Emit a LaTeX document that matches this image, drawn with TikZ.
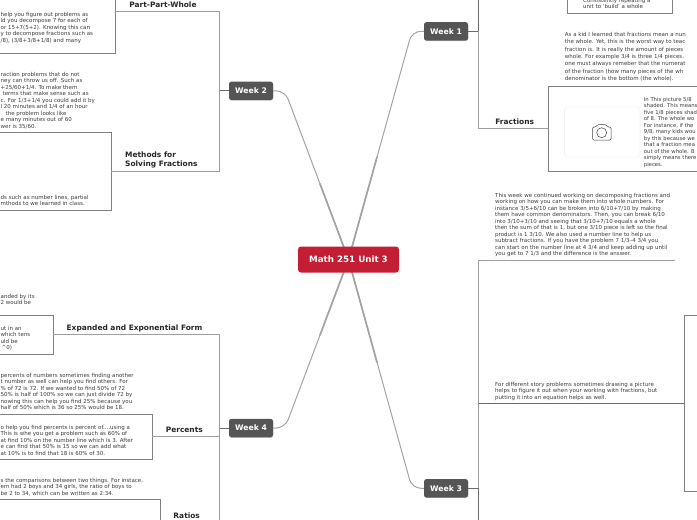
\documentclass[tikz,border=0pt]{standalone}
\usepackage{fontspec}
\setmainfont{DejaVu Sans}
\usetikzlibrary{shadows,positioning,backgrounds,calc}
\definecolor{rootred}{HTML}{C41E35}
\definecolor{weekgray}{HTML}{555555}
\definecolor{notegray}{HTML}{3C3C3C}
\tikzset{x=1pt,y=-1pt, % one unit is one pixel of the page
root/.style={fill=rootred, text=white, rounded corners=3pt, minimum width=101pt, minimum height=26pt, inner sep=0pt, font=\fontsize{8.7}{9}\selectfont\bfseries}, % the centre node
week/.style={fill=weekgray, text=white, rounded corners=2.5pt, minimum width=44pt, minimum height=18.5pt, inner sep=0pt, font=\fontsize{7.7}{9}\selectfont\bfseries, general shadow={fill=black!18, shadow xshift=.4pt, shadow yshift=-.6pt}},
spoke/.style={draw=black!36, line width=1pt, rounded corners=9pt}, % from the centre to a week
spokehub/.style={draw=black!36, line width=1.7pt}, % thicker close to the centre
branch/.style={draw=black!58, line width=.7pt},
lightbranch/.style={draw=black!38, line width=.7pt},
panel/.style={draw=black!50, fill=white, line width=.5pt, inner sep=0pt, general shadow={fill=black!22, shadow xshift=.7pt, shadow yshift=-.7pt}},
heading/.style={inner sep=0pt, align=left, text=black!85, font=\fontsize{7.45}{9.5}\selectfont\bfseries},
note/.style={inner sep=0pt, anchor=north west, align=left, text=notegray, font=\fontsize{5.5}{6.5}\selectfont},
}
\begin{document}
\begin{tikzpicture}
\useasboundingbox (0,0) rectangle (697,520);
\clip (0,0) rectangle (697,520);
\node[root] (math) at (348.5,259.5) {Math 251 Unit 3};
\node[week] (week1) at (446,31.3) {Week 1};
\node[week] (week2) at (251,90.8) {Week 2};
\node[week] (week3) at (446,488.3) {Week 3};
\node[week] (week4) at (251,428) {Week 4};
% panels
\node[panel, minimum width=135pt, minimum height=84pt, anchor=east] (partbox) at (115,11) {};
\node[panel, minimum width=131pt, minimum height=77.5pt, anchor=east] (methodbox) at (111,171.2) {};
\node[panel, minimum width=73pt, minimum height=39pt, anchor=east] (expandbox) at (53,334.8) {};
\node[panel, minimum width=172pt, minimum height=45.3pt, anchor=east] (percentbox) at (152.3,436.6) {};
\node[panel, minimum width=180pt, minimum height=48pt, anchor=north east] (ratiobox) at (160,499.3) {};
\node[panel, minimum width=105pt, minimum height=40pt, anchor=south west] (unitbox) at (566.7,13.3) {};
\node[panel, minimum width=170pt, minimum height=85pt, anchor=west] (fractionbox) at (548,128.5) {};
\node[panel, minimum width=40pt, minimum height=175.3pt, anchor=west] (storybox) at (684,403.3) {};
% branches
\coordinate (corner1) at (412,31.3);
\coordinate (corner2) at (285,90.8);
\coordinate (corner3) at (412,488.3);
\coordinate (corner4) at (285,428);
\coordinate (spine1) at (478.7,31.3);
\coordinate (spine2) at (219.5,90.8);
\coordinate (spine3) at (478.7,488.3);
\coordinate (spine4) at (219.5,428);
\coordinate (topend) at (478.7,-5);
\coordinate (bottomend) at (478.7,525);
\coordinate (ratioend) at (219.5,525);
\coordinate (decompend) at (675,260);
\begin{scope}[on background layer]
\draw[spoke] (math.center) -- (corner1) -- (week1.west);
\draw[spoke] (math.center) -- (corner2) -- (week2.east);
\draw[spoke] (math.center) -- (corner3) -- (week3.west);
\draw[spoke] (math.center) -- (corner4) -- (week4.east);
\draw[spokehub] (math.center) -- ($(math.center)!.45!(corner1)$);
\draw[spokehub] (math.center) -- ($(math.center)!.45!(corner2)$);
\draw[spokehub] (math.center) -- ($(math.center)!.45!(corner3)$);
\draw[spokehub] (math.center) -- ($(math.center)!.45!(corner4)$);
\end{scope}
\draw[branch] (week1.east) -- (spine1);
\draw[branch] (topend) -- (spine1);
\draw[lightbranch] (spine1) |- (fractionbox.west);
\draw[branch] (week2.west) -- (spine2);
\draw[lightbranch] (spine2) |- (partbox.east);
\draw[lightbranch] (spine2) |- (methodbox.east);
\draw[branch] (week3.east) -- (spine3);
\draw[branch] (bottomend) -- (spine3);
\draw[branch] (spine3) |- (storybox.west);
\draw[lightbranch] (spine3) |- (decompend);
\draw[branch] (week4.west) -- (spine4);
\draw[lightbranch] (spine4) |- (expandbox.east);
\draw[lightbranch] (spine4) |- (percentbox.east);
\draw[lightbranch] (spine4) -- (ratioend);
% headings
\node[heading] (parthead) at (163,4.5) {Part-Part-Whole};
\node[heading, anchor=west] (methodhead) at (125,160) {Methods for\\Solving Fractions};
\node[heading] (expandhead) at (134.5,328.5) {Expanded and Exponential Form};
\node[heading] (percenthead) at (184.3,429.7) {Percents};
\node[heading] (ratiohead) at (186.7,515.7) {Ratios};
\node[heading] (fractionhead) at (514.7,121.5) {Fractions};
% week 2 notes
\node[note] (partnote) at (0.5,12) {help you figure out problems as\\ld you decompose 7 for each of\\or 15+7(5+2). Knowing this can\\y to decompose fractions such as\\/8), (3/8+3/8+1/8) and many};
\node[note] (solvenote) at (0.5,72) {raction problems that do not\\ney can throw us off. Such as\\+25/60+1/4. To make them\\\hspace*{2pt}terms that make sense such as\\c. For 1/3+1/4 you could add it by\\l 20 minutes and 1/4 of an hour\\\hspace*{5pt}the problem looks like\\e many minutes out of 60\\wer is 35/60.};
\node[note] (toolnote) at (0.5,195) {ds such as number lines, partial\\mthods to we learned in class.};
% week 4 notes
\node[note] (placenote) at (0.5,293.7) {anded by its\\2 would be};
\node[note] (tensnote) at (0.5,326) {ut in an\\which tens\\uld be\\\hspace*{1pt}\textasciicircum 0)};
\node[note] (findnote) at (0.5,373) {percents of numbers sometimes finding another\\t number as well can help you find others. For\\\% of 72 is 72. If we wanted to find 50\% of 72\\50\% is half of 100\% so we can just divide 72 by\\nowing this can help you find 25\% because you\\half of 50\% which is 36 so 25\% would be 18.};
\node[note] (linenote) at (0.5,424.7) {o help you find percents is percent of....using a\\This is whe you get a problem such as 60\% of\\at find 10\% on the number line which is 3. After\\e can find that 50\% is 15 so we can add what\\at 10\% is to find that 18 is 60\% of 30.};
\node[note] (rationote) at (0.5,478) {s the comparisons between two things. For instace,\\em had 2 boys and 34 girls, the ratio of boys to\\be 2 to 34, which can be written as 2:34.};
% week 1 notes
\node[note] (unitnote) at (583,-2) {Consistently repeating a\\unit to 'build' a whole};
\node[note, font=\fontsize{5.5}{7.4}\selectfont] (kidnote) at (564.7,32) {As a kid I learned that fractions mean a nun\\the whole. Yet, this is the worst way to teac\\fraction is. It is really the amount of pieces\\whole. For example 3/4 is three 1/4 pieces.\\one must always remeber that the numerat\\of the fraction (how many pieces of the wh\\denominator is the bottom (the whole).};
\node[note, font=\fontsize{5.3}{6.5}\selectfont] (picturenote) at (643.7,97) {In This picture 5/8\\shaded. This means\\five 1/8 pieces shad\\of 8. The whole wo\\For instance, if the\\9/8, many kids wou\\by this because we\\that a fraction mea\\out of the whole. B\\simply means there\\pieces.};
\node[draw=black!7, fill=white, rounded corners=3pt, minimum width=75.7pt, minimum height=50pt, inner sep=0pt] (photo) at (602.2,132) {};
\draw[black!75, line width=.5pt, rounded corners=1.2pt] (592.5,127) -- (596,127) -- (597.5,124.5) -- (606,124.5) -- (607.5,127) -- (611,127) -- (611,140) -- (592.5,140) -- cycle;
\draw[black!75, line width=.5pt] (601.7,132.7) circle (5);
% week 3 notes
\node[note] (decompnote) at (495,193) {This week we continued working on decomposing fractions and\\working on how you can make them into whole numbers. For\\instance 3/5+6/10 can be broken into 6/10+7/10 by making\\them have common denominators. Then, you can break 6/10\\into 3/10+3/10 and seeing that 3/10+7/10 equals a whole\\then the sum of that is 1, but one 3/10 piece is left so the final\\product is 1 3/10. We also used a number line to help us\\subtract fractions. If you have the problem 7 1/3--4 3/4 you\\can start on the number line at 4 3/4 and keep adding up until\\you get to 7 1/3 and the difference is the answer.};
\node[note] (storynote) at (495,382) {For different story problems sometimes drawing a picture\\helps to figure it out when your working with fractions, but\\putting it into an equation helps as well.};
\end{tikzpicture}
\end{document}
